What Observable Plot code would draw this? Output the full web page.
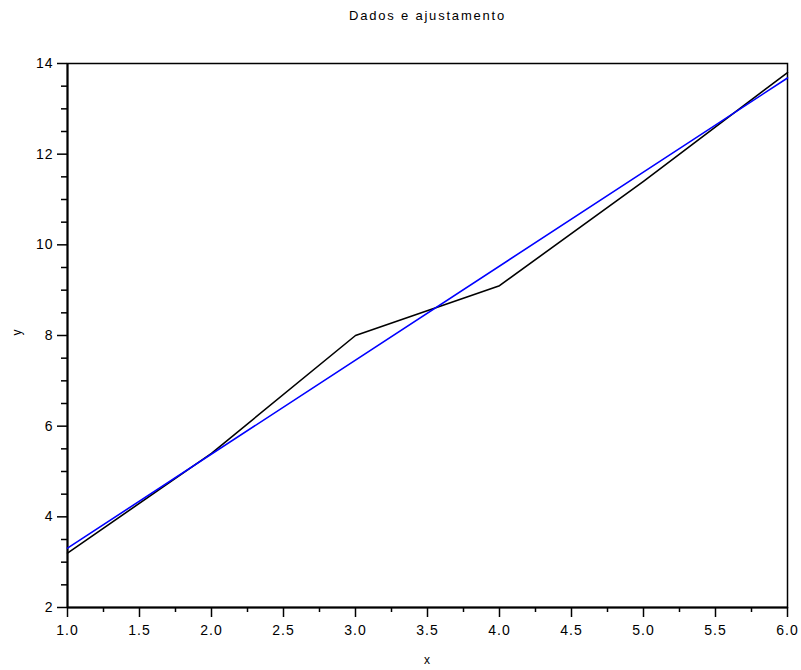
<!DOCTYPE html>
<html><head><meta charset="utf-8">
<script src="https://cdn.jsdelivr.net/npm/d3@7"></script>
<script src="https://cdn.jsdelivr.net/npm/@observablehq/plot@0.6"></script>
<style>
body{margin:0;background:#fff}
svg{font-family:"Liberation Sans",Arial,sans-serif}
svg text{letter-spacing:1px}
</style>
</head><body><div id="chart"></div>
<script>
const title = "Dados e ajustamento";
const xLabel = "x";
const yLabel = "y";
const xData = [1, 2, 3, 4, 5, 6];
const yData = [3.2, 5.4, 8.0, 9.1, 11.4, 13.8];
const fitX = [1, 6];
const fitY = [3.31, 13.68];
const xTicks = [1.0, 1.5, 2.0, 2.5, 3.0, 3.5, 4.0, 4.5, 5.0, 5.5, 6.0];
const xMinorTicks = [1.25, 1.75, 2.25, 2.75, 3.25, 3.75, 4.25, 4.75, 5.25, 5.75];
const yTicks = [2, 4, 6, 8, 10, 12, 14];
const yMinorTicks = [2.5, 3, 3.5, 4.5, 5, 5.5, 6.5, 7, 7.5, 8.5, 9, 9.5, 10.5, 11, 11.5, 12.5, 13, 13.5];

const dataPts = xData.map((x, i) => ({x, y: yData[i]}));
const fitPts = fitX.map((x, i) => ({x, y: fitY[i]}));

const chart = Plot.plot({
  width: 801,
  height: 670,
  marginTop: 63,
  marginRight: 14,
  marginBottom: 63,
  marginLeft: 67,
  x: {domain: [1, 6]},
  y: {domain: [2, 14]},
  marks: [
    Plot.frame({stroke: "black", strokeWidth: 1.5}),
    Plot.axisX(xMinorTicks, {tickSize: 5, tickFormat: () => "", label: null, strokeWidth: 1.5}),
    Plot.axisX(xTicks, {tickSize: 10, tickPadding: 8, tickFormat: d3.format(".1f"), fontSize: 14, label: null, strokeWidth: 1.5, fill: "black"}),
    Plot.axisY(yMinorTicks, {tickSize: 6, tickFormat: () => "", label: null, strokeWidth: 1.5}),
    Plot.axisY(yTicks, {tickSize: 10, tickPadding: 4, tickFormat: d3.format("d"), fontSize: 14, label: null, strokeWidth: 1.5, fill: "black"}),
    Plot.ruleX([1], {stroke: "black", strokeWidth: 2}),
    Plot.ruleY([2], {stroke: "black", strokeWidth: 2}),
    Plot.line(dataPts, {x: "x", y: "y", stroke: "black", strokeWidth: 1.6}),
    Plot.line(fitPts, {x: "x", y: "y", stroke: "#0000ff", strokeWidth: 1.6}),
    Plot.text([title], {text: d => d, frameAnchor: "top", dy: -53, fontSize: 13, fill: "black"}),
    Plot.text([xLabel], {text: d => d, frameAnchor: "bottom", dy: 56, fontSize: 12, fill: "black"}),
    Plot.text([yLabel], {text: d => d, frameAnchor: "left", dx: -50, rotate: -90, fontSize: 12, fill: "black"})
  ]
});
document.getElementById("chart").appendChild(chart);
chart.querySelectorAll("text").forEach(t => { if (t.textContent === title) t.style.letterSpacing = "1.8px"; });
</script>
</body></html>
